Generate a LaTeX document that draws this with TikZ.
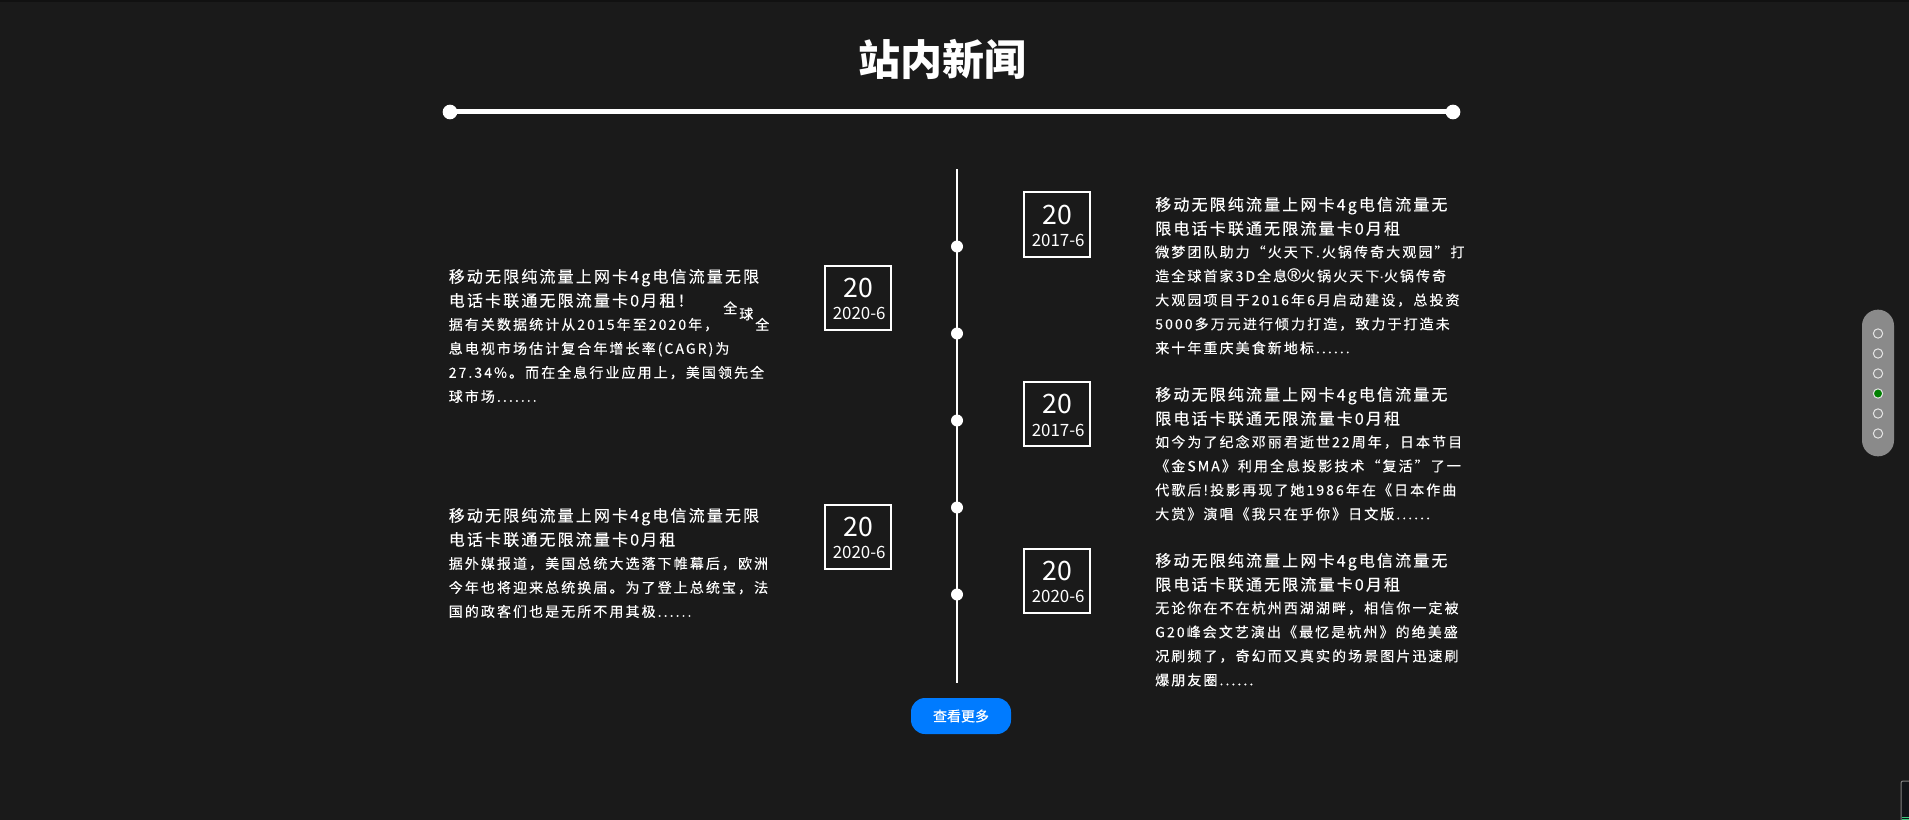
\documentclass[tikz,border=0pt]{standalone}
\usepackage{fontspec}
\setmainfont{Noto Sans CJK SC}
\newfontfamily\headfont[LetterSpace=13.4,FakeBold=0.15]{Noto Sans CJK SC}
\newfontfamily\bodyfont[LetterSpace=14.8,FakeBold=0.25]{Noto Sans CJK SC}
\newfontfamily\btnfont[FakeBold=0.4]{Noto Sans CJK SC}
\newfontfamily\markfont[FakeBold=0.15]{Liberation Sans}
\definecolor{pagebg}{HTML}{1A1A1A}
\definecolor{topbar}{HTML}{111111}
\definecolor{btnblue}{HTML}{007BFF}
\definecolor{pillgray}{HTML}{8A8A8A}
\definecolor{ringgray}{HTML}{E6E6E6}
\definecolor{activegreen}{HTML}{008000}
\definecolor{cornerdark}{HTML}{111418}
\definecolor{cornergreen}{HTML}{3CCB7F}
\tikzset{
	x=0.75pt, y=-0.75pt,
	headline/.style={anchor=west,inner sep=0pt,text height=10.5pt,text depth=1.5pt,text=white,font=\headfont\fontsize{12pt}{12pt}\selectfont},
	bodyline/.style={anchor=west,inner sep=0pt,text height=9.2pt,text depth=1.3pt,text=white,font=\bodyfont\fontsize{10.5pt}{10.5pt}\selectfont},
	datebox/.style={draw=white,line width=1.5pt,minimum width=49pt,minimum height=48pt,inner sep=0pt},
	bignum/.style={inner sep=0pt,text=white,font=\fontsize{20pt}{20pt}\selectfont},
	datenum/.style={inner sep=0pt,text=white,font=\fontsize{12.7pt}{12.7pt}\selectfont},
	linedot/.style={circle,fill=white,inner sep=0pt,minimum size=9pt},
	navdot/.style={circle,draw=ringgray,line width=0.75pt,inner sep=0pt,minimum size=7pt},
	ruledot/.style={circle,fill=white,inner sep=0pt,minimum size=11pt},
}
\begin{document}
\begin{tikzpicture}
	%page
	\fill[pagebg] (0,0) rectangle (1909,820);
	\fill[topbar] (0,0) rectangle (1909,2);
	\useasboundingbox (0,0) rectangle (1909,820);

	%title and rule
	\node[inner sep=0pt,text=white,font=\bfseries\fontsize{31.5pt}{31.5pt}\selectfont] (title) at (942,59) {站内新闻};
	\node[ruledot] (ruleL) at (450,112) {};
	\node[ruledot] (ruleR) at (1453,112) {};
	\draw[white,line width=3.75pt] (ruleL.center) -- (ruleR.center);

	%time line
	\coordinate (lineTop) at (957,169.5);
	\coordinate (lineEnd) at (957,682.5);
	\draw[white,line width=1.5pt] (lineTop) -- (lineEnd);
	\foreach \name/\ypos in {dotA/246.5,dotB/333.5,dotC/420.5,dotD/507.5,dotE/594.5}
		\node[linedot] (\name) at (957,\ypos) {};

	%date boxes
	\foreach \name/\xpos/\ypos/\datetext in {boxL1/858/297.5/2020-6,boxL2/858/536.5/2020-6,boxR1/1057/224.5/2017-6,boxR2/1057/414/2017-6,boxR3/1057/580.5/2020-6}{
		\node[datebox] (\name) at (\xpos,\ypos) {};
		\node[bignum] (\name num) at (\xpos,\ypos-10) {20};
		\node[datenum] (\name date) at (\xpos+1.2,\ypos+16) {\datetext};
	}

	%left news 1
	\node[headline] (l1a) at (448.5,276.5) {移动无限纯流量上网卡4g电信流量无限};
	\node[headline] (l1b) at (448.5,300.5) {电话卡联通无限流量卡0月租！};
	\node[bodyline] (l1c) at (448.5,324.5) {据有关数据统计从2015年至2020年，};
	\node[bodyline] (l1d) at (448.5,348.5) {息电视市场估计复合年增长率(CAGR)为};
	\node[bodyline] (l1e) at (448.5,372.5) {27.34\%。而在全息行业应用上，美国领先全};
	\node[bodyline] (l1f) at (448.5,396.5) {球市场.......};
	\node[bodyline] (l1g) at (723,308) {全};
	\node[bodyline] (l1h) at (739,314) {球};
	\node[bodyline] (l1i) at (755,324.5) {全};

	%left news 2
	\node[headline] (l2a) at (448.5,515.5) {移动无限纯流量上网卡4g电信流量无限};
	\node[headline] (l2b) at (448.5,539.5) {电话卡联通无限流量卡0月租};
	\node[bodyline] (l2c) at (448.5,563.5) {据外媒报道，美国总统大选落下帷幕后，欧洲};
	\node[bodyline] (l2d) at (448.5,587.5) {今年也将迎来总统换届。为了登上总统宝，法};
	\node[bodyline] (l2e) at (448.5,611.5) {国的政客们也是无所不用其极......};

	%right news 1
	\node[headline] (r1a) at (1155,204.5) {移动无限纯流量上网卡4g电信流量无};
	\node[headline] (r1b) at (1155,228.5) {限电话卡联通无限流量卡0月租};
	\node[bodyline] (r1c) at (1155,252) {微梦团队助力“火天下.火锅传奇大观园”打};
	\node[bodyline] (r1d) at (1155,276) {造全球首家3D全息{\markfont\fontsize{14pt}{14pt}\selectfont ®}火锅火天下{\markfont·}火锅传奇};
	\node[bodyline] (r1e) at (1155,300) {大观园项目于2016年6月启动建设，总投资};
	\node[bodyline] (r1f) at (1155,324) {5000多万元进行倾力打造，致力于打造未};
	\node[bodyline] (r1g) at (1155,348) {来十年重庆美食新地标......};

	%right news 2
	\node[headline] (r2a) at (1155,394.5) {移动无限纯流量上网卡4g电信流量无};
	\node[headline] (r2b) at (1155,418.5) {限电话卡联通无限流量卡0月租};
	\node[bodyline] (r2c) at (1155,442) {如今为了纪念邓丽君逝世22周年，日本节目};
	\node[bodyline] (r2d) at (1155,466) {《金SMA》利用全息投影技术“复活”了一};
	\node[bodyline] (r2e) at (1155,490) {代歌后!投影再现了她1986年在《日本作曲};
	\node[bodyline] (r2f) at (1155,514) {大赏》演唱《我只在乎你》日文版......};

	%right news 3
	\node[headline] (r3a) at (1155,560.5) {移动无限纯流量上网卡4g电信流量无};
	\node[headline] (r3b) at (1155,584.5) {限电话卡联通无限流量卡0月租};
	\node[bodyline] (r3c) at (1155,608) {无论你在不在杭州西湖湖畔，相信你一定被};
	\node[bodyline] (r3d) at (1155,632) {G20峰会文艺演出《最忆是杭州》的绝美盛};
	\node[bodyline] (r3e) at (1155,656) {况刷频了，奇幻而又真实的场景图片迅速刷};
	\node[bodyline] (r3f) at (1155,680) {爆朋友圈......};

	%button
	\node[fill=btnblue,rounded corners=10.5pt,minimum width=75pt,minimum height=27pt,inner sep=0pt,text=white,font=\btnfont\fontsize{10.5pt}{10.5pt}\selectfont] (morebtn) at (961,716) {查看更多};

	%side nav
	\node[fill=pillgray,rounded corners=12pt,minimum width=24pt,minimum height=110pt,inner sep=0pt] (navpill) at (1878,383) {};
	\foreach \name/\ypos in {navA/333.5,navB/353.5,navC/373.5,navE/413.5,navF/433.5}
		\node[navdot] (\name) at (1878,\ypos) {};
	\node[navdot,fill=activegreen] (navD) at (1878,393.5) {};

	%corner widget
	\fill[cornerdark,draw=gray,line width=0.75pt,rounded corners=1.5pt] (1901,781) rectangle (1912,825);
	\fill[cornergreen] (1902,816.5) rectangle (1909,817.5);
	\fill[cornergreen] (1902,818.5) rectangle (1909,820);
\end{tikzpicture}
\end{document}
